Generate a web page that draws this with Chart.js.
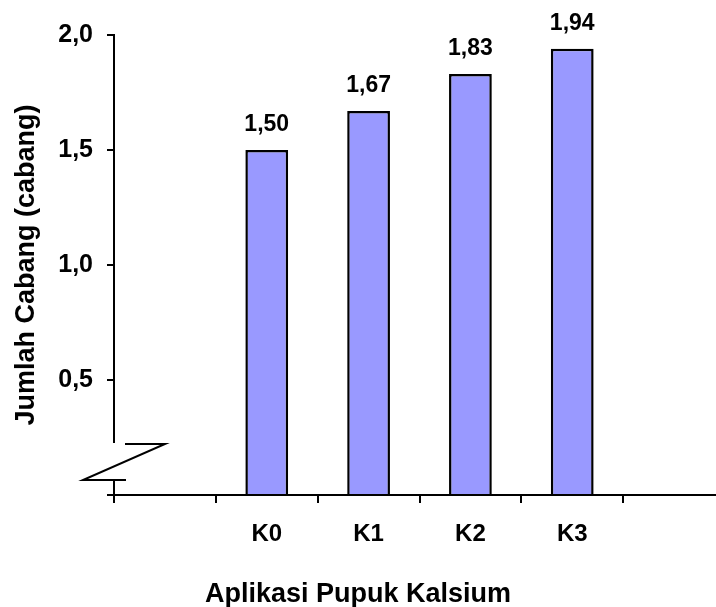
<!DOCTYPE html>
<html>
<head>
<meta charset="utf-8">
<script src="https://cdn.jsdelivr.net/npm/chart.js@4.4.1/dist/chart.umd.min.js"></script>
<style>
  html, body { margin:0; padding:0; background:#fff; overflow:hidden; }
  #wrap { position:relative; width:726px; height:607px; }
</style>
</head>
<body>
<div id="wrap"><canvas id="myChart"></canvas></div>
<script>
const categories=['', 'K0', 'K1', 'K2', 'K3', ''];
const jumlahCabang=[null, 1.50, 1.67, 1.83, 1.94, null];
const yTickLabels=['', '0,5', '1,0', '1,5', '2,0'];
const xTitle='Aplikasi Pupuk Kalsium';
const yTitle='Jumlah Cabang (cabang)';

const FONT="'Liberation Sans', Arial, sans-serif";

// value labels above the bars
const valueLabels={
    id:'valueLabels',
    afterDatasetsDraw(chart){
        const c=chart.ctx;
        const meta=chart.getDatasetMeta(0);
        c.save();
        c.font='bold 23px '+FONT;
        c.fillStyle='#000';
        c.textAlign='center';
        c.textBaseline='alphabetic';
        meta.data.forEach((bar,i)=>{
            const v=jumlahCabang[i];
            if(v==null) return;
            c.fillText(v.toFixed(2).replace('.',','), bar.x, bar.y-19);
        });
        c.restore();
    }
};

// zigzag break on the y axis
const axisBreak={
    id:'axisBreak',
    afterDraw(chart){
        const c=chart.ctx;
        const x=chart.chartArea.left;
        const b=chart.chartArea.bottom;
        c.save();
        c.fillStyle='#fff';
        c.fillRect(x-4, b-52, 8, 36);
        c.strokeStyle='#000';
        c.lineWidth=2;
        c.beginPath();
        c.moveTo(x+11, b-51);
        c.lineTo(x+51, b-51);
        c.lineTo(x-31, b-15);
        c.lineTo(x+12, b-15);
        c.stroke();
        c.restore();
    }
};

// x title, centred on the picture rather than the plot
const xAxisTitle={
    id:'xAxisTitle',
    afterDraw(chart){
        const c=chart.ctx;
        c.save();
        c.font='bold 27px '+FONT;
        c.fillStyle='#000';
        c.textAlign='center';
        c.textBaseline='alphabetic';
        c.fillText(xTitle, 358, chart.chartArea.bottom+107);
        c.restore();
    }
};

const ctx=document.getElementById('myChart').getContext('2d');
const chart=new Chart(ctx,{
    type:'bar',
    data:{
        labels:categories,
        datasets:[{
            data:jumlahCabang,
            backgroundColor:'#9999ff',
            borderColor:'#000',
            borderWidth:2.5,
            borderSkipped:'start',
            barPercentage:0.42,
            categoryPercentage:1.0,
        }],
    },
    options:{
        responsive:true,
        maintainAspectRatio:false,
        animation:false,
        layout:{padding:{top:35,right:1,bottom:0,left:0}},
        plugins:{
            legend:{display:false},
            tooltip:{enabled:false},
            title:{display:false},
        },
        scales:{
            x:{
                grid:{offset:true, drawOnChartArea:false, drawTicks:true, tickLength:8, color:'#000', lineWidth:2},
                border:{display:true, color:'#000', width:2},
                ticks:{color:'#000', padding:17, maxRotation:0, autoSkip:false,
                    font:{family:FONT, size:24, weight:'bold'}},
                afterFit(s){ s.height=112; },
            },
            y:{
                min:0,
                max:2,
                grid:{drawOnChartArea:false, drawTicks:true, tickLength:7, color:'#000', lineWidth:2},
                border:{display:true, color:'#000', width:2},
                ticks:{stepSize:0.5, color:'#000', padding:14,
                    font:{family:FONT, size:25, weight:'bold'},
                    callback:(v,i)=>yTickLabels[i]},
                title:{display:true, text:yTitle, color:'#000',
                    font:{family:FONT, size:27, weight:'bold'},
                    padding:{top:10, bottom:0}},
                afterFit(s){ s.width=114; },
            },
        },
    },
    plugins:[valueLabels, axisBreak, xAxisTitle],
});
</script>
</body>
</html>
